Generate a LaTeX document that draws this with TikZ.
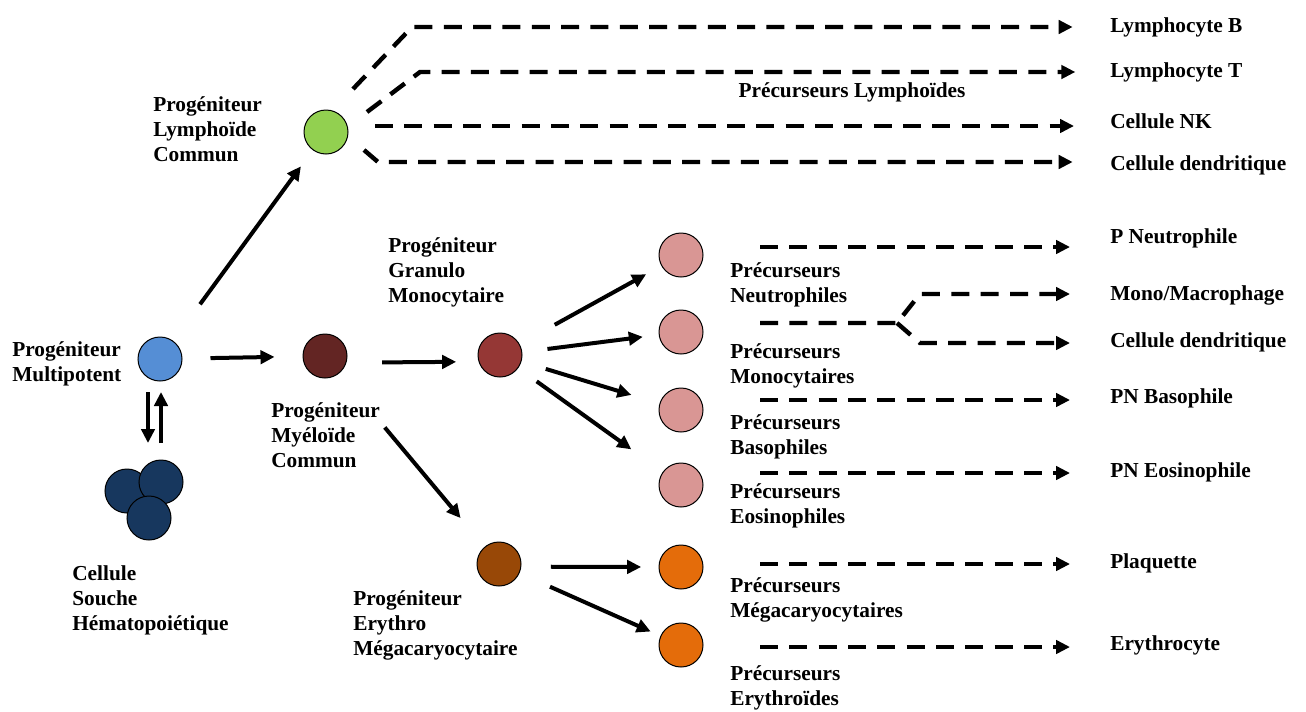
\documentclass[tikz,border=0pt]{standalone}
\usepackage{fontspec}
\setmainfont{Liberation Serif}
\usetikzlibrary{arrows.meta,positioning,calc}

\definecolor{mpblue}{RGB}{85,142,213}
\definecolor{navy}{RGB}{23,55,94}
\definecolor{lymgreen}{RGB}{146,208,80}
\definecolor{myered}{RGB}{99,37,35}
\definecolor{gmred}{RGB}{149,55,53}
\definecolor{mebrown}{RGB}{152,72,7}
\definecolor{rose}{RGB}{217,150,148}
\definecolor{orangec}{RGB}{228,108,10}

\begin{document}
\begin{tikzpicture}[x=0.75pt,y=-0.75pt,
        >={Triangle[length=10.5pt,width=10pt]},
        cell/.style={circle,draw,line width=0.75pt,minimum size=33pt,inner sep=0pt},
        lbl/.style={font=\fontsize{16}{18.7}\selectfont\bfseries,align=left,inner sep=0pt,anchor=west},
        fleche/.style={->,line width=3pt},
        tiret/.style={->,line width=3.3pt,dash pattern=on 13.5pt off 8.5pt}]
    \useasboundingbox (0,0) rectangle (1306,711);

    % cellules
    \node[cell,fill=mpblue] (mpp) at (160,359) {};
    \node[cell,fill=navy] (hsc1) at (127,491) {};
    \node[cell,fill=navy] (hsc2) at (161,482) {};
    \node[cell,fill=navy] (hsc3) at (149,518) {};
    \node[cell,fill=lymgreen] (clp) at (326,132) {};
    \node[cell,fill=myered] (cmp) at (325,356) {};
    \node[cell,fill=gmred] (gmp) at (500,355) {};
    \node[cell,fill=mebrown] (mep) at (499,564) {};
    \foreach \y/\nom in {255/pn,332/pm,410/pb,485/pe}{
        \node[cell,fill=rose] (\nom) at (681,\y) {};
    }
    \node[cell,fill=orangec] (pmk) at (681,567) {};
    \node[cell,fill=orangec] (pery) at (681,645) {};

    % textes
    \node[lbl] (tmpp) at (12,364) {Progéniteur\\Multipotent};
    \node[lbl] (thsc) at (72,600) {Cellule\\Souche\\Hématopoiétique};
    \node[lbl] (tclp) at (153,129) {Progéniteur\\Lymphoïde\\Commun};
    \node[lbl] (tcmp) at (271,435) {Progéniteur\\Myéloïde\\Commun};
    \node[lbl] (tgmp) at (388,272) {Progéniteur\\Granulo\\Monocytaire};
    \node[lbl] (tmep) at (353,625) {Progéniteur\\Erythro\\Mégacaryocytaire};
    \node[lbl,anchor=center] (tlym) at (852,92) {Précurseurs Lymphoïdes};
    \node[lbl] (tpn) at (730,285) {Précurseurs\\Neutrophiles};
    \node[lbl] (tpm) at (730,366) {Précurseurs\\Monocytaires};
    \node[lbl] (tpb) at (730,437) {Précurseurs\\Basophiles};
    \node[lbl] (tpe) at (730,506) {Précurseurs\\Eosinophiles};
    \node[lbl] (tpmk) at (730,600) {Précurseurs\\Mégacaryocytaires};
    \node[lbl] (tpery) at (730,688) {Précurseurs\\Erythroïdes};

    \node[lbl] (rlb) at (1110,27) {Lymphocyte B};
    \node[lbl] (rlt) at (1110,72) {Lymphocyte T};
    \node[lbl] (rnk) at (1110,121) {Cellule NK};
    \node[lbl] (rdc1) at (1110,165) {Cellule dendritique};
    \node[lbl] (rneu) at (1110,238) {P Neutrophile};
    \node[lbl] (rmac) at (1110,295) {Mono/Macrophage};
    \node[lbl] (rdc2) at (1110,342) {Cellule dendritique};
    \node[lbl] (rbas) at (1110,398) {PN Basophile};
    \node[lbl] (reos) at (1110,472) {PN Eosinophile};
    \node[lbl] (rpla) at (1110,563) {Plaquette};
    \node[lbl] (rery) at (1110,645) {Erythrocyte};

    % fleches pleines
    \coordinate (dn1) at (148,392);
    \coordinate (dn2) at (148,443);
    \draw[fleche] (dn1) -- (dn2);
    \draw[fleche] (dn2 -| hsc2) -- (dn1 -| hsc2);
    \draw[fleche,shorten <=34pt,shorten >=15pt] (mpp) -- (clp);
    \draw[fleche,shorten <=21pt,shorten >=21pt] (mpp) -- (cmp);
    \draw[fleche,shorten <=26pt,shorten >=16pt] ([yshift=-5pt]cmp.east) -- ([yshift=-5pt]gmp.west);
    \draw[fleche,shorten <=53pt,shorten >=28pt] (cmp) -- (mep);
    \foreach \nom/\a/\b in {pn/30/13,pm/19/12,pb/19/22,pe/17/29}{
        \draw[fleche,shorten <=\a pt,shorten >=\b pt] (gmp) -- (\nom);
    }
    \draw[fleche,shorten <=22pt,shorten >=13pt] ([yshift=-2pt]mep.east) -- (pmk.west);
    \draw[fleche,shorten <=25pt,shorten >=8pt] (mep) -- (pery);

    % fleches en tirets, lignee lymphoide
    \coordinate (l1) at (353,89);  \coordinate (l1b) at (412,27);
    \coordinate (l2) at (367,112); \coordinate (l2b) at (420,72);
    \coordinate (l3) at (375,126);
    \coordinate (l4) at (364,150); \coordinate (l4b) at (378,162);
    \draw[tiret,shorten >=28pt] (l1) -- (l1b) -- (l1b -| rlb.west);
    \draw[tiret,shorten >=26pt] (l2) -- (l2b) -- (l2b -| rlt.west);
    \draw[tiret,shorten >=27pt] (l3) -- (l3 -| rnk.west);
    \draw[tiret,shorten >=28pt] (l4) -- (l4b) -- (l4b -| rdc1.west);

    % fleches en tirets, lignee myeloide
    \coordinate (dneu) at (760,247);
    \coordinate (dmo) at (760,323);
    \coordinate (dmob) at (897,323);
    \coordinate (dmac) at (920,294);
    \coordinate (ddc) at (920,343);
    \coordinate (dbas) at (760,400);
    \coordinate (deos) at (760,473);
    \coordinate (dpla) at (760,564);
    \coordinate (dery) at (760,647);
    \draw[tiret,shorten >=30pt] (dneu) -- (dneu -| rneu.west);
    \draw[tiret,shorten >=30pt] (dmo) -- (dmob) -- (dmac) -- (dmac -| rmac.west);
    \draw[tiret,shorten >=30pt] (dmob) -- (ddc) -- (ddc -| rdc2.west);
    \draw[tiret,shorten >=30pt] (dbas) -- (dbas -| rbas.west);
    \draw[tiret,shorten >=30pt] (deos) -- (deos -| reos.west);
    \draw[tiret,shorten >=30pt] (dpla) -- (dpla -| rpla.west);
    \draw[tiret,shorten >=30pt] (dery) -- (dery -| rery.west);
\end{tikzpicture}
\end{document}
